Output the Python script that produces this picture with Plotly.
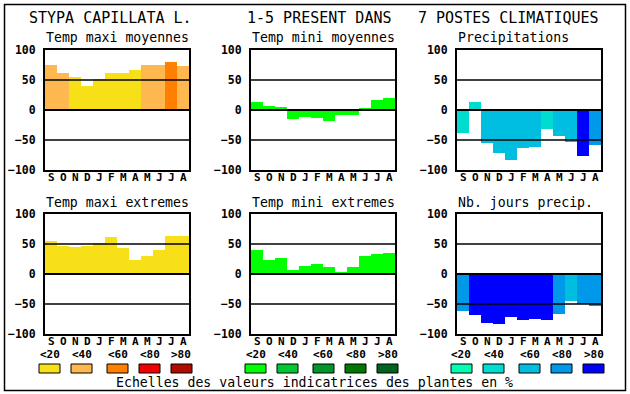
import plotly.graph_objects as go

W, H = 630, 394

months = ["S", "O", "N", "D", "J", "F", "M", "A", "M", "J", "J", "A"]
y_ticks = [100, 50, 0, -50, -100]
grid_levels = [50, 0, -50]

temp_maxi_moy = [75, 62, 55, 40, 52, 62, 62, 67, 75, 75, 80, 73]
temp_maxi_moy_cls = [1, 1, 0, 0, 0, 0, 0, 0, 1, 1, 2, 1]
temp_mini_moy = [13, 7, 5, -15, -11, -13, -18, -8, -8, 3, 17, 20]
temp_mini_moy_cls = [0] * 12
precip = [-38, 13, -55, -72, -83, -63, -62, -32, -43, -53, -77, -58]
precip_cls = [1, 1, 2, 2, 2, 2, 2, 1, 2, 2, 4, 3]
temp_maxi_ext = [55, 47, 45, 47, 52, 62, 43, 23, 30, 40, 63, 63]
temp_maxi_ext_cls = [0] * 12
temp_mini_ext = [40, 23, 27, 7, 13, 17, 12, 3, 12, 30, 33, 35]
temp_mini_ext_cls = [0] * 12
nb_jours = [-62, -68, -82, -83, -72, -77, -75, -77, -67, -45, -50, -53]
nb_jours_cls = [3, 4, 4, 4, 4, 4, 4, 4, 3, 2, 3, 3]

class_labels = ["<20", "<40", "<60", "<80", ">80"]
pal_yellow = ["#f8e018", "#ffb850", "#ff8000", "#f00000", "#b00c00"]
pal_green = ["#00ff00", "#00c832", "#009628", "#007800", "#006420"]
pal_blue = ["#00ffb0", "#00dcd0", "#00bee0", "#0098e8", "#0000ff"]

main_titles = ["STYPA CAPILLATA L.", "1-5 PRESENT DANS", "7 POSTES CLIMATIQUES"]
legend_text = "Echelles des valeurs indicatrices des plantes en %"

panels = [
    ("Temp maxi moyennes", temp_maxi_moy, temp_maxi_moy_cls, pal_yellow),
    ("Temp mini moyennes", temp_mini_moy, temp_mini_moy_cls, pal_green),
    ("Precipitations", precip, precip_cls, pal_blue),
    ("Temp maxi extremes", temp_maxi_ext, temp_maxi_ext_cls, pal_yellow),
    ("Temp mini extremes", temp_mini_ext, temp_mini_ext_cls, pal_green),
    ("Nb. jours precip.", nb_jours, nb_jours_cls, pal_blue),
]

MONO = "DejaVu Sans Mono"


def px(x):
    return x / W


def py(y):
    return 1 - y / H


col_px = [(45, 189), (251, 395), (457, 601)]
row_px = [(50, 170), (214, 334)]

fig = go.Figure()
shapes = []
annotations = []

for i, (sub, vals, cls, pal) in enumerate(panels):
    r, c = divmod(i, 3)
    n = i + 1
    xa = "x" if n == 1 else f"x{n}"
    ya = "y" if n == 1 else f"y{n}"
    xpos = list(range(len(months)))
    fig.add_trace(go.Bar(
        x=xpos, y=vals,
        marker=dict(color=[pal[k] for k in cls], line=dict(width=0)),
        xaxis=xa, yaxis=ya, showlegend=False, hoverinfo="y",
    ))
    x0, x1 = col_px[c]
    y0, y1 = row_px[r]
    axis_common = dict(showline=True, mirror=True, linecolor="black", linewidth=2,
                       showgrid=False, zeroline=False, layer="above traces", fixedrange=True,
                       automargin=False)
    fig.update_layout({
        f"xaxis{'' if n == 1 else n}": dict(
            domain=[px(x0), px(x1)], anchor=ya, range=[-0.5, 11.5],
            showticklabels=False, ticks="",
            **axis_common),
        f"yaxis{'' if n == 1 else n}": dict(
            domain=[py(y1), py(y0)], anchor=xa, range=[-100, 100],
            tickmode="array", tickvals=y_ticks, ticks="", ticklabelstandoff=5,
            tickfont=dict(family=MONO, size=11.5, color="black", weight="bold"),
            **axis_common),
    })
    # month labels under each bar
    for xi, m in zip(xpos, months):
        annotations.append(dict(text=m, x=xi, y=py(y1 + 7), xref=xa, yref="paper",
                                xanchor="center", yanchor="middle", showarrow=False,
                                font=dict(family=MONO, size=11, color="black", weight="bold")))
    for g in grid_levels:
        shapes.append(dict(type="line", xref=f"{xa} domain", yref=ya, x0=0, x1=1, y0=g, y1=g,
                           line=dict(color="black", width=2 if g == 0 else 1.5), layer="above"))
    annotations.append(dict(text=sub, x=px(x0) - 0.001, y=py(y0 - 12), xref="paper", yref="paper",
                            xanchor="left", yanchor="middle", showarrow=False,
                            font=dict(family=MONO, size=13.2, color="black")))
    # legend row under bottom panels
    if r == 1:
        offsets = [0, 32, 68, 100, 132]
        for k, off in enumerate(offsets):
            sx0 = x0 - 6 + off
            shapes.append(dict(type="rect", xref="paper", yref="paper",
                               x0=px(sx0), x1=px(sx0 + 21), y0=py(373), y1=py(364),
                               fillcolor=pal[k], line=dict(color="black", width=1)))
            annotations.append(dict(text=class_labels[k], x=px(sx0 + 10.5), y=py(354.5),
                                    xref="paper", yref="paper", xanchor="center", yanchor="middle",
                                    showarrow=False,
                                    font=dict(family=MONO, size=11, color="black", weight="bold")))

title_centers = [110.5, 319, 508]
for t, cx in zip(main_titles, title_centers):
    annotations.append(dict(text=t, x=px(cx), y=py(18), xref="paper", yref="paper",
                            xanchor="center", yanchor="middle", showarrow=False,
                            font=dict(family=MONO, size=15, color="black")))

annotations.append(dict(text=legend_text, x=px(314.5), y=py(382), xref="paper", yref="paper",
                        xanchor="center", yanchor="middle", showarrow=False,
                        font=dict(family=MONO, size=13.2, color="black")))

shapes.append(dict(type="rect", xref="paper", yref="paper", x0=px(4.5), x1=px(625.5),
                   y0=py(390.5), y1=py(4.5), line=dict(color="black", width=1.5), layer="above"))

fig.update_layout(
    width=W, height=H, margin=dict(l=0, r=0, t=0, b=0, pad=0, autoexpand=False),
    paper_bgcolor="white", plot_bgcolor="white",
    bargap=0, shapes=shapes, annotations=annotations, showlegend=False,
)

fig.write_html(
    "out.html",
    config={"displayModeBar": False},
    post_script="document.body.style.margin='0';document.body.style.overflow='hidden';",
)
